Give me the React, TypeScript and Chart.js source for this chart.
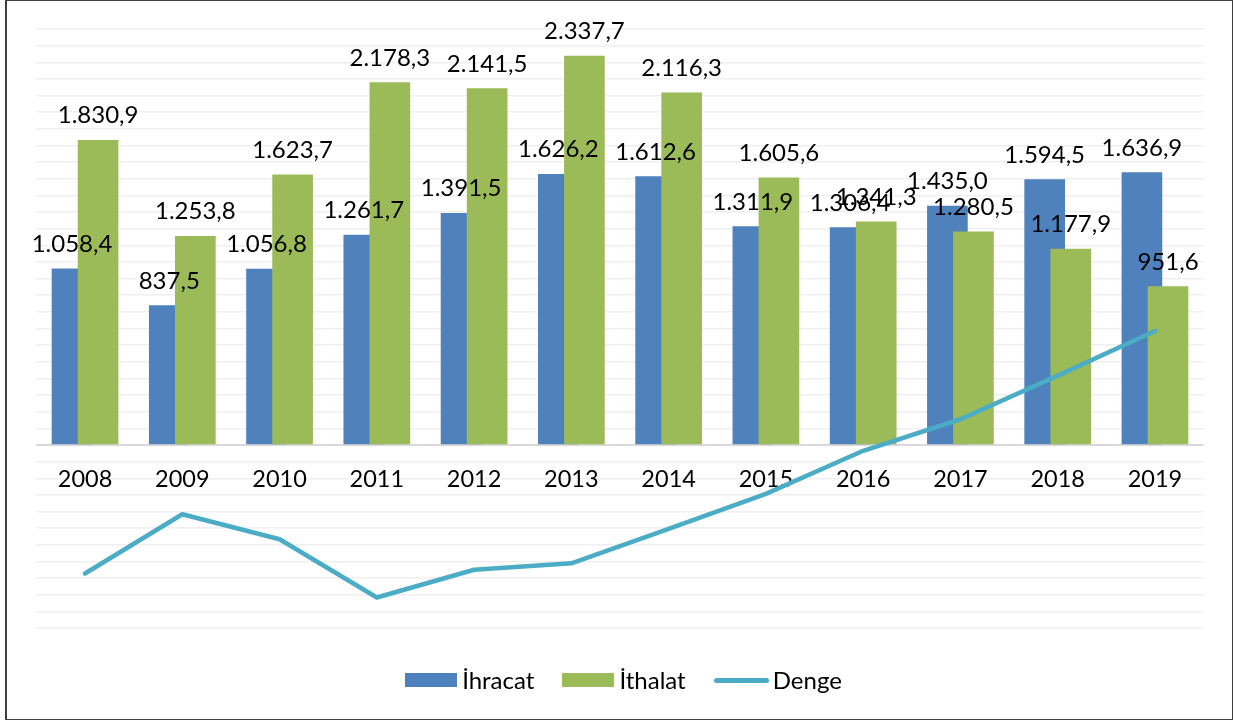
import React, { useEffect, useRef } from "react";
import { Chart, registerables } from "chart.js";

Chart.register(...registerables);

const years = ["2008", "2009", "2010", "2011", "2012", "2013", "2014", "2015", "2016", "2017", "2018", "2019"];
const ihracat = [1058.4, 837.5, 1056.8, 1261.7, 1391.5, 1626.2, 1612.6, 1311.9, 1306.4, 1435.0, 1594.5, 1636.9];
const ithalat = [1830.9, 1253.8, 1623.7, 2178.3, 2141.5, 2337.7, 2116.3, 1605.6, 1341.3, 1280.5, 1177.9, 951.6];
const denge = [-772.5, -416.3, -566.9, -916.6, -750.0, -711.5, -503.7, -293.7, -34.9, 154.5, 416.6, 685.3];
const seriesNames = ["İhracat", "İthalat", "Denge"];
const seriesColors = ["#4F81BD", "#9BBB59", "#4BACC6"];

const FONT = "Lato, 'Open Sans', sans-serif";
const BAR_SHIFT = 0.134;

function fmtTR(v: number): string {
  const s = v.toFixed(1);
  const [intPart, dec] = s.split(".");
  const neg = intPart.startsWith("-");
  const digits = neg ? intPart.slice(1) : intPart;
  const withSep = digits.replace(/\B(?=(\d{3})+(?!\d))/g, ".");
  return (neg ? "-" : "") + withSep + "," + dec;
}

const barLabelPlugin = {
  id: "barLabels",
  afterDatasetsDraw(chart: any) {
    const ctx = chart.ctx;
    ctx.save();
    ctx.font = `24px ${FONT}`;
    ctx.fillStyle = "#000";
    ctx.textAlign = "center";
    ctx.textBaseline = "alphabetic";
    chart.data.datasets.forEach((ds: any, di: number) => {
      if (ds.type !== "bar") return;
      const meta = chart.getDatasetMeta(di);
      meta.data.forEach((el: any, i: number) => {
        const v = ds.data[i].y;
        ctx.fillText(fmtTR(v), el.x, el.y - 17);
      });
    });
    ctx.restore();
  },
};

export default function App() {
  const canvasRef = useRef<HTMLCanvasElement | null>(null);

  useEffect(() => {
    if (!canvasRef.current) return;
    const chart = new Chart(canvasRef.current, {
      type: "bar",
      data: {
        datasets: [
          {
            type: "bar",
            label: seriesNames[0],
            data: ihracat.map((v, i) => ({ x: i - BAR_SHIFT, y: v })),
            backgroundColor: seriesColors[0],
            grouped: false,
            barThickness: 40,
            order: 2,
          } as any,
          {
            type: "bar",
            label: seriesNames[1],
            data: ithalat.map((v, i) => ({ x: i + BAR_SHIFT, y: v })),
            backgroundColor: seriesColors[1],
            grouped: false,
            barThickness: 40,
            order: 1,
          } as any,
          {
            type: "line",
            label: seriesNames[2],
            data: denge.map((v, i) => ({ x: i, y: v })),
            borderColor: seriesColors[2],
            backgroundColor: seriesColors[2],
            borderWidth: 4.5,
            pointRadius: 0,
            borderCapStyle: "round",
            borderJoinStyle: "round",
            tension: 0,
            order: 0,
          } as any,
        ],
      },
      options: {
        animation: false,
        responsive: false,
        layout: { padding: { left: 36.4, right: 30.4, top: 29, bottom: 93 } },
        plugins: {
          legend: { display: false },
          tooltip: { enabled: false },
        },
        scales: {
          x: {
            type: "linear",
            min: -0.5,
            max: 11.5,
            offset: false,
            position: { y: 0 } as any,
            afterBuildTicks: (scale: any) => {
              scale.ticks = years.map((_, i) => ({ value: i }));
            },
            afterFit: (scale: any) => {
              scale.paddingLeft = 0;
              scale.paddingRight = 0;
              scale.paddingTop = 0;
              scale.paddingBottom = 0;
            },
            ticks: {
              callback: (v: any) => years[Math.round(Number(v))] ?? "",
              font: { family: FONT, size: 23.5 },
              color: "#000",
              padding: 20,
              maxRotation: 0,
              autoSkip: false,
            },
            grid: { display: false, drawTicks: false, offset: false },
            border: { display: false },
          },
          y: {
            min: -1100,
            max: 2500,
            ticks: { display: false, stepSize: 100 },
            grid: {
              drawTicks: false,
              color: (c: any) => (c.tick && c.tick.value === 0 ? "#D9D9D9" : "#EFEFEF"),
              lineWidth: (c: any) => (c.tick && c.tick.value === 0 ? 2 : 1.5),
            },
            border: { display: false },
          },
        },
      },
      plugins: [barLabelPlugin],
    });
    return () => chart.destroy();
  }, []);

  const legendItems = seriesNames.map((name, i) => (
    <div key={name} style={{ display: "flex", alignItems: "center", marginRight: i < 2 ? 28 : 0 }}>
      {i < 2 ? (
        <div style={{ width: 52, height: 14, background: seriesColors[i], marginRight: 5 }} />
      ) : (
        <div style={{ width: 55, height: 5, borderRadius: 3, background: seriesColors[i], marginRight: 4 }} />
      )}
      <span style={{ fontFamily: FONT, fontSize: 24, color: "#000", lineHeight: "28px" }}>{name}</span>
    </div>
  ));

  return (
    <div style={{ position: "absolute", left: 0, top: 0, width: 1234, height: 721, background: "#fff", overflow: "hidden" }}>
      <canvas ref={canvasRef} width={1234} height={721} style={{ position: "absolute", left: 0, top: 0, width: 1234, height: 721 }} />
      <div
        style={{
          position: "absolute",
          left: 5,
          top: 0,
          width: 1225,
          height: 718,
          border: "1px solid #404040",
          borderLeftWidth: 2,
          pointerEvents: "none",
        }}
      />
      <div
        style={{
          position: "absolute",
          left: 0,
          top: 666,
          width: 1247,
          height: 28,
          display: "flex",
          justifyContent: "center",
          alignItems: "center",
        }}
      >
        {legendItems}
      </div>
    </div>
  );
}
